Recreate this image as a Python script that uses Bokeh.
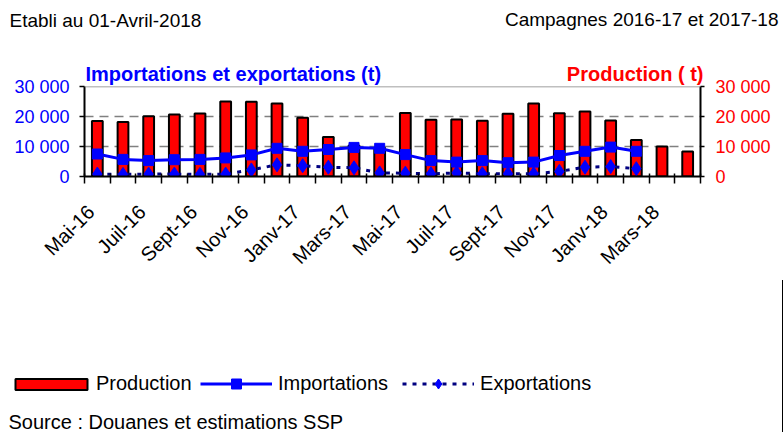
from math import pi
from bokeh.plotting import figure
from bokeh.layouts import column
from bokeh.models import Range1d, LinearAxis, FixedTicker, Span, Label, Legend, LegendItem
from bokeh.embed import file_html
from bokeh.resources import INLINE

# ---------------- data ----------------
months = ["Mai-16", "Juin-16", "Juil-16", "Août-16", "Sept-16", "Oct-16", "Nov-16", "Déc-16",
          "Janv-17", "Févr-17", "Mars-17", "Avr-17", "Mai-17", "Juin-17", "Juil-17", "Août-17",
          "Sept-17", "Oct-17", "Nov-17", "Déc-17", "Janv-18", "Févr-18", "Mars-18", "Avr-18"]
production = [18500, 18200, 20100, 20700, 21000, 25000, 24900, 24300, 19600, 13200, 10300, 9600,
              21200, 18900, 19000, 18600, 20900, 24300, 21100, 21700, 18700, 12200, 10000, 8300]
importations = [7500, 5700, 5300, 5600, 5700, 6200, 7200, 9400, 8400, 9000, 9700, 9400,
                7300, 5300, 4800, 5300, 4600, 4800, 7000, 8400, 9800, 8400]
exportations = [800, 700, 800, 800, 700, 800, 2200, 3900, 3600, 3100, 2900, 1200,
                1100, 900, 1200, 900, 900, 900, 1700, 3100, 3300, 2600]
x_tick_labels = ["Mai-16", "Juil-16", "Sept-16", "Nov-16", "Janv-17", "Mars-17",
                 "Mai-17", "Juil-17", "Sept-17", "Nov-17", "Janv-18", "Mars-18"]
y_ticks = [0, 10000, 20000, 30000]
y_tick_labels = ["0", "10 000", "20 000", "30 000"]

FONT = "Liberation Sans"
RED = "#FF0000"
BLUE = "#0000FF"
NAVY = "#000080"
GRAY = "#808080"

n = len(months)
idx = list(range(n))
trade_idx = idx[:len(importations)]

TOP, FRAME_H, BOTTOM = 86, 90, 104
STRIP_H = 432 - TOP - FRAME_H - BOTTOM

# ================= main chart =================
p = figure(frame_width=616, frame_height=FRAME_H,
           x_range=Range1d(-0.5, n - 0.5), y_range=Range1d(0, 30000),
           output_backend="svg", toolbar_location=None, frame_align=False,
           min_border_left=84, min_border_right=83, min_border_top=TOP, min_border_bottom=BOTTOM,
           outline_line_color=None, background_fill_color="white", border_fill_color="white")
p.extra_y_ranges = {"prod": Range1d(0, 30000)}

# ---- x axis: tick marks between months, labels every 2nd month ----
label_pos = [i - 0.25 for i in idx[::2]]
xa = p.xaxis[0]
xa.ticker = FixedTicker(ticks=label_pos, minor_ticks=[i - 0.5 for i in range(n + 1)])
xa.major_label_overrides = {pos: lab for pos, lab in zip(label_pos, x_tick_labels)}
xa.major_tick_in = 0
xa.major_tick_out = 0
xa.minor_tick_in = 3
xa.minor_tick_out = 7
xa.minor_tick_line_color = "black"
xa.minor_tick_line_width = 1.5
xa.axis_line_color = "black"
xa.axis_line_width = 2
xa.major_label_orientation = pi / 4
xa.major_label_standoff = 25
xa.major_label_text_font = FONT
xa.major_label_text_font_size = "20px"
xa.major_label_text_color = "black"

# ---- left axis ----
ya = p.yaxis[0]
ya.ticker = FixedTicker(ticks=y_ticks)
ya.major_label_overrides = dict(zip(y_ticks, y_tick_labels))
ya.major_tick_out = 5
ya.major_tick_in = 0
ya.minor_tick_out = 0
ya.minor_tick_in = 0
ya.major_tick_line_width = 1.5
ya.axis_line_width = 2
ya.major_label_standoff = 10
ya.major_label_text_font = FONT
ya.major_label_text_font_size = "18px"
ya.major_label_text_color = BLUE

# ---- right axis ----
ra = LinearAxis(y_range_name="prod", ticker=FixedTicker(ticks=y_ticks),
                major_label_overrides=dict(zip(y_ticks, y_tick_labels)),
                major_tick_out=4, major_tick_in=0, minor_tick_out=0, minor_tick_in=0,
                major_tick_line_width=1.5, axis_line_width=2, major_label_standoff=11,
                major_label_text_font=FONT, major_label_text_font_size="18px",
                major_label_text_color=RED)
p.add_layout(ra, "right")

# ---- grid ----
p.xgrid.visible = False
p.ygrid.ticker = FixedTicker(ticks=y_ticks[1:-1])
p.ygrid.grid_line_color = GRAY
p.ygrid.grid_line_dash = "9 6"
p.ygrid.grid_line_width = 1.5
p.add_layout(Span(location=y_ticks[-1], dimension="width", line_color=GRAY, line_width=1.5))

# ---- glyphs ----
bar_style = dict(fill_color=RED, line_color="black", line_width=2)
imp_line_style = dict(line_color=BLUE, line_width=3)
imp_pt_style = dict(marker="square", size=10, fill_color=BLUE, line_color=BLUE)
exp_line_style = dict(line_color=NAVY, line_width=3, line_dash="4 6")
exp_pt_style = dict(marker="diamond", size=14, fill_color=BLUE, line_color=BLUE)

p.vbar(x=idx, top=production, width=0.42, bottom=0, y_range_name="prod", **bar_style)
p.line(trade_idx, exportations, **exp_line_style)
p.line(trade_idx, importations, **imp_line_style)
p.scatter(trade_idx, importations, **imp_pt_style)
p.scatter(trade_idx, exportations, **exp_pt_style)

# ---- texts above the chart (hosted in the "above" panel, stacked from the frame up) ----
def make_label(text, x, y, align="left", color="black", size="20px", style="normal"):
    return Label(x=x, y=y, x_units="screen", y_units="screen", text=text,
                 text_align=align, text_baseline="middle", text_color=color,
                 text_font=FONT, text_font_size=size, text_font_style=style)

p.add_layout(make_label("Importations  et exportations (t)", 1, 13, color=BLUE, style="bold"), "above")
p.add_layout(make_label("Production ( t)", 619, -9, align="right", color=RED, style="bold"), "above")
p.add_layout(make_label("Etabli au 01-Avril-2018", -75, 22, size="19px"), "above")
p.add_layout(make_label("Campagnes 2016-17 et 2017-18", 694, 2, align="right", size="19px"), "above")

# ================= legend + source strip (its frame covers the whole strip) =================
q = figure(width=783, height=STRIP_H, x_range=Range1d(-2, -1), y_range=Range1d(0, 1),
           output_backend="svg", toolbar_location=None, frame_align=False,
           x_axis_location=None, y_axis_location=None,
           min_border_left=0, min_border_right=0, min_border_top=0, min_border_bottom=0,
           outline_line_color=None, background_fill_color="white", border_fill_color="white")
q.grid.visible = False
# legend swatch carriers: same series, lying outside this strip's visible range
sw_bar = q.vbar(x=idx, top=production, width=0.42, **bar_style)
sw_imp_l = q.line(trade_idx, importations, **imp_line_style)
sw_imp_p = q.scatter(trade_idx, importations, **imp_pt_style)
sw_exp_l = q.line(trade_idx, exportations, **exp_line_style)
sw_exp_p = q.scatter(trade_idx, exportations, **exp_pt_style)

common = dict(orientation="horizontal", padding=0, margin=0, border_line_color=None,
              background_fill_alpha=0, label_text_font=FONT, label_text_font_size="20px",
              label_text_color="black", label_height=23)
leg1 = Legend(items=[LegendItem(label="Production", renderers=[sw_bar])],
              location=(6, 37), glyph_width=90, glyph_height=14, label_standoff=0, **common)
leg2 = Legend(items=[LegendItem(label="Importations", renderers=[sw_imp_l, sw_imp_p]),
                     LegendItem(label="Exportations", renderers=[sw_exp_l, sw_exp_p])],
              location=(200, 36), glyph_width=72, glyph_height=25, label_standoff=6,
              spacing=14, **common)
q.add_layout(leg1)
q.add_layout(leg2)
q.add_layout(make_label("Source : Douanes et estimations SSP", 8, 11))

open("out.html", "w").write(file_html(column(p, q, spacing=0), INLINE))
